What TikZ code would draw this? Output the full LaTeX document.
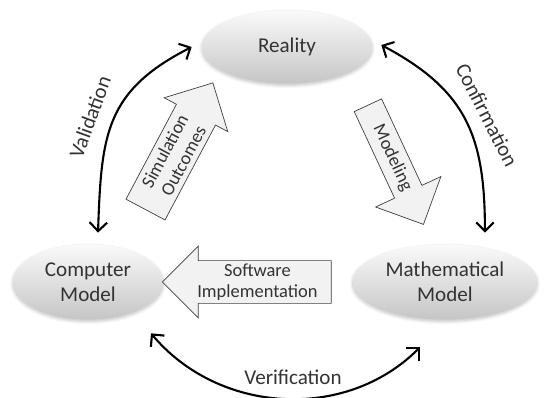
\documentclass[tikz,border=0pt]{standalone}
\usepackage{fontspec}
\setmainfont{Carlito}
\usetikzlibrary{positioning,shapes,arrows.meta,shadows.blur}
\definecolor{txtgray}{HTML}{333333}
\tikzstyle{ell}=[ellipse, minimum width=3.4cm, minimum height=1.46cm, top color=gray!4, bottom color=gray!45, text=txtgray, align=center, font=\fontsize{12}{14}\selectfont, blur shadow={shadow blur steps=6, shadow xshift=0pt, shadow yshift=-1pt, shadow opacity=25}]
\tikzstyle{blk}=[single arrow, draw=black!75, fill=gray!10, text=txtgray, align=center, inner sep=1pt, font=\fontsize{10.5}{12}\selectfont, minimum width=1.44cm]
\tikzstyle{arc}=[{Straight Barb[length=5pt,width=10pt]}-{Straight Barb[length=5pt,width=10pt]}, line width=1.2pt]
\tikzstyle{lbl}=[text=txtgray, font=\fontsize{12}{14}\selectfont]

\begin{document}
\begin{tikzpicture}[x=0.02cm,y=0.02cm]
\useasboundingbox (0,0) rectangle (549,398);

  \node[ell] at (287,351) (reality) {Reality};
  \node[ell, minimum width=3cm, minimum height=1.5cm] at (88,116) (cm) {Computer\\Model};
  \node[ell, minimum width=3.5cm, minimum height=1.5cm, right of = cm, node distance = 7.14cm] (mm) {Mathematical\\Model};

  % block arrows
  \node[blk, right of = cm, node distance = 3.39cm, shape border rotate=180, minimum height=3.38cm, single arrow head extend=0.28cm] (impl) {Software\\Implementation};
  \node[blk, rotate=62, minimum height=2.87cm, single arrow head extend=0.24cm] at (174,242) (sim) {Simulation\\Outcomes};
  \node[blk, rotate=-65, minimum height=2.63cm, single arrow head extend=0.28cm] at (392.5,240) (mod) {Modeling};

  % curved double arrows
  \draw[arc] ([shift={(10,11.5)}]cm.north) to[out=88, in=207, looseness=1.2] ([shift={(-10,0)}]reality.west);
  \draw[arc] ([shift={(9,2)}]reality.east) to[out=-28, in=90, looseness=1.15] ([shift={(40,11.5)}]mm.north);
  \draw[arc] ([shift={(63,-13.5)}]cm.south) to[out=-50, in=225] ([shift={(-25,-27.5)}]mm.south);

  \node[lbl, rotate=70] at (90,281) (val) {Validation};
  \node[lbl, rotate=-63] at (487,283) (conf) {Confirmation};
  \node[lbl] at (293,21) (ver) {Verification};
\end{tikzpicture}
\end{document}
